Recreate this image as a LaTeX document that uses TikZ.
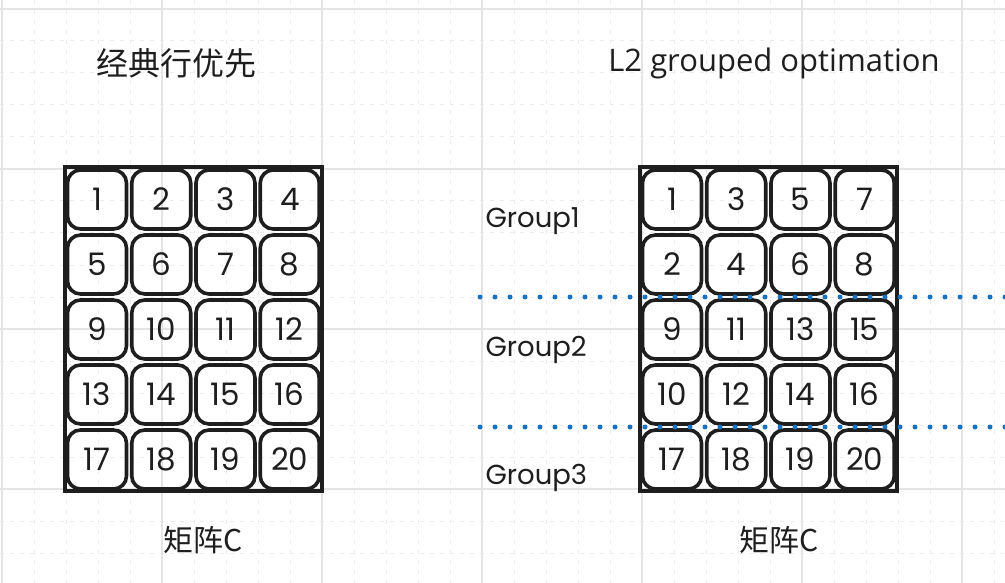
\documentclass[tikz,border=0pt]{standalone}
\usepackage{fontspec}
\setmainfont{Open Sans}
\newfontfamily\cjk{Noto Sans CJK SC}
\newfontfamily\hand{Poppins}
\definecolor{gridmajor}{HTML}{E4E4E4}
\definecolor{gridminor}{HTML}{ECECEC}
\definecolor{groupblue}{HTML}{1971C2}
\definecolor{inkblack}{HTML}{1E1E1E}
\tikzset{
    cell/.style={draw=inkblack, line width=3.6pt, rounded corners=13pt,
        minimum size=59pt, inner sep=0pt, text=inkblack,
        font=\hand\fontsize{31}{31}\selectfont},
    frame/.style={draw=inkblack, line width=4pt},
    groupline/.style={groupblue, line width=5pt, line cap=round,
        dash pattern=on 0pt off 15pt},
    grouplabel/.style={anchor=base west, text=inkblack,
        font=\hand\fontsize{27.5}{28}\selectfont},
    title/.style={text=inkblack, font=\fontsize{31}{31}\selectfont},
}
\begin{document}
\begin{tikzpicture}[x=1pt, y=-1pt]
    % Background grid
    \useasboundingbox (0,0) rectangle (1005,583);
    \foreach \gx in {34,66,...,1005} {
        \draw [gridminor, line width=1pt, dash pattern=on 4pt off 6pt] (\gx,0) -- (\gx,583);
    }
    \foreach \gy in {9,41,...,583} {
        \draw [gridminor, line width=1pt, dash pattern=on 4pt off 6pt] (0,\gy) -- (1005,\gy);
    }
    \foreach \gx in {2,162,...,1005} {
        \draw [gridmajor, line width=1.2pt] (\gx,0) -- (\gx,583);
    }
    \foreach \gy in {9,169,...,583} {
        \draw [gridmajor, line width=1.2pt] (0,\gy) -- (1005,\gy);
    }

    % Titles
    \node [title, font=\cjk\fontsize{32}{32}\selectfont] (ltitle) at (176,63) {经典行优先};
    \node [title] (rtitle) at (774,63) {L2 grouped optimation};

    % Left matrix, row order
    \coordinate (lnw) at (65,167);
    \coordinate (lse) at (322,491);
    \draw [frame] (lnw) rectangle (lse);
    \foreach \v [count=\k from 0] in {1,...,20} {
        \pgfmathtruncatemacro{\col}{mod(\k,4)}
        \pgfmathtruncatemacro{\row}{int(\k/4)}
        \node [cell] (a\v) at (97+64.25*\col, 199.5+65*\row) {\v};
    }
    \node [title, font=\cjk\fontsize{30}{30}\selectfont] (lcap) at (203,540) {矩阵C};

    % Right matrix, grouped order
    \coordinate (rnw) at (640,167);
    \coordinate (rse) at (897,491);
    \draw [frame] (rnw) rectangle (rse);
    \foreach \v [count=\k from 0] in {1,3,5,7,2,4,6,8,9,11,13,15,10,12,14,16,17,18,19,20} {
        \pgfmathtruncatemacro{\col}{mod(\k,4)}
        \pgfmathtruncatemacro{\row}{int(\k/4)}
        \node [cell] (b\v) at (672+64.25*\col, 199.5+65*\row) {\v};
    }
    \node [title, font=\cjk\fontsize{30}{30}\selectfont] (rcap) at (779,540) {矩阵C};

    % Group borders
    \coordinate (g1s) at (480,297);
    \coordinate (g1e) at (1005,297);
    \coordinate (g2s) at (480,427);
    \coordinate (g2e) at (1005,427);
    \draw [groupline] (g1s) -- (g1e);
    \draw [groupline] (g2s) -- (g2e);
    \node [grouplabel] (group1) at (482,227) {Group1};
    \node [grouplabel] (group2) at (482,356) {Group2};
    \node [grouplabel] (group3) at (482,484) {Group3};
\end{tikzpicture}
\end{document}
